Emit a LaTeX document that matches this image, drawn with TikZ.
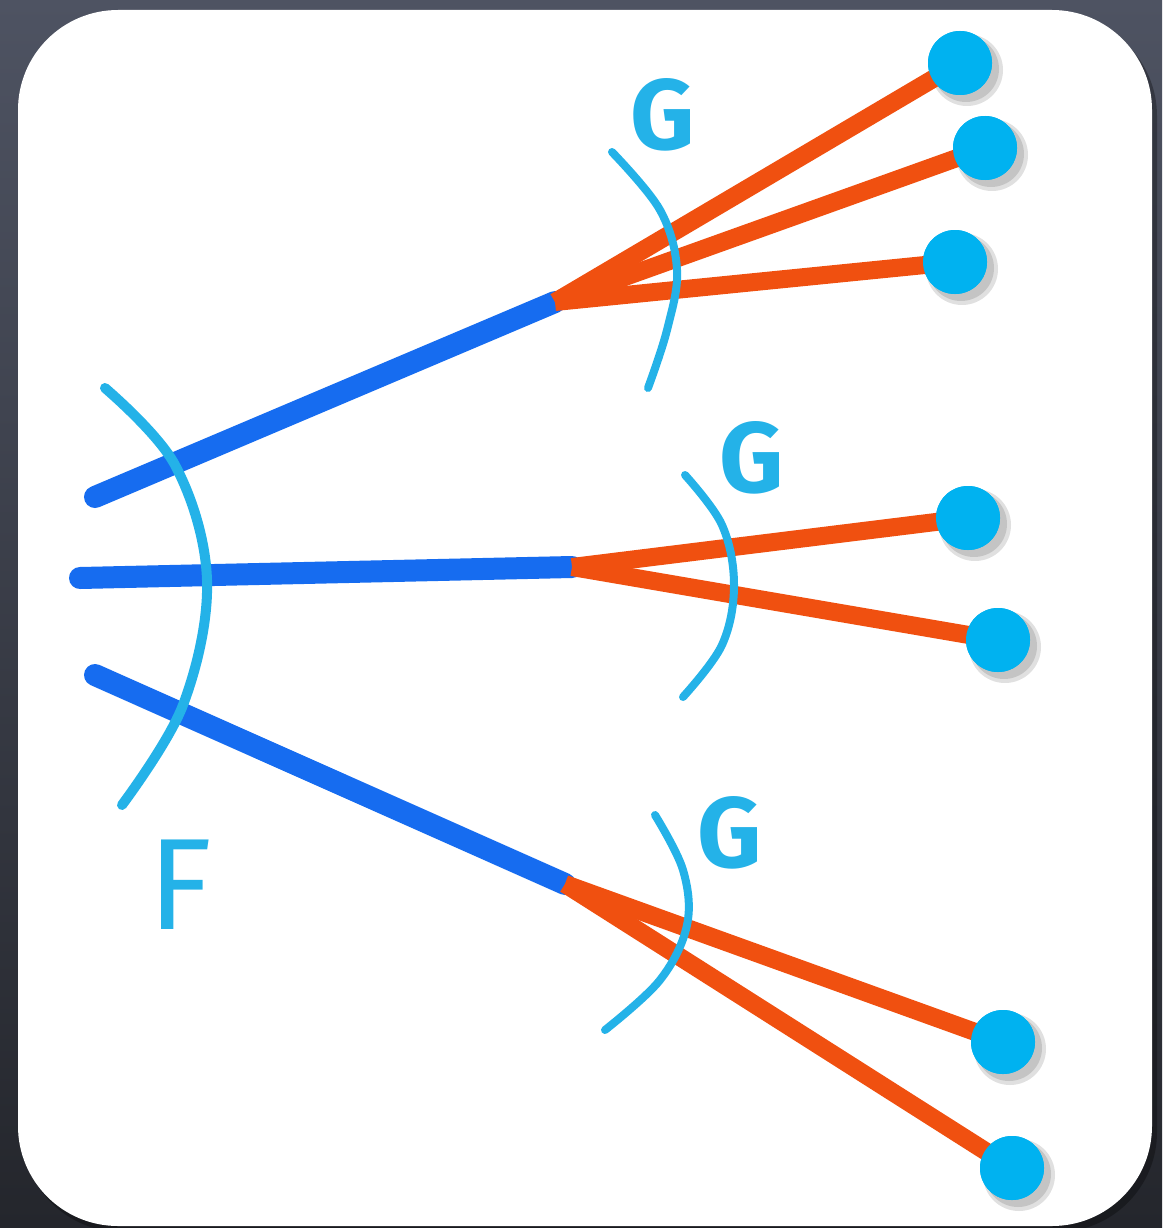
\documentclass[tikz,border=0pt]{standalone}
\usepackage{fontspec}
\setmainfont{Fira Sans}
\definecolor{bgtop}{RGB}{78,83,98}
\definecolor{bgbot}{RGB}{36,38,44}
\definecolor{lineblue}{RGB}{22,108,240}
\definecolor{lineorange}{RGB}{240,80,16}
\definecolor{dotcyan}{RGB}{0,178,240}
\definecolor{arccyan}{RGB}{36,178,232}
\begin{document}
\begin{tikzpicture}[x=1pt,y=-1pt,
  shad/.style={preaction={draw=black,opacity=0.12,transform canvas={shift={(5pt,-6pt)}}}},
  blueline/.style={draw=lineblue,line width=22pt,line cap=round,shad},
  orangeline/.style={draw=lineorange,line width=18pt,line cap=butt,shad},
  arcline/.style={draw=arccyan,line width=8pt,line cap=round},
  dotnode/.style={circle,fill=dotcyan,minimum size=64pt,inner sep=0pt},
  dotshadow/.style={fill=black,opacity=0.12},
  lbl/.style={text=arccyan,font=\bfseries\fontsize{100}{100}\selectfont,inner sep=0pt}]
\useasboundingbox (0,0) rectangle (1162,1228);
\shade[top color=bgtop,bottom color=bgbot] (0,0) rectangle (1162,1228);
\fill[black,opacity=0.3,rounded corners=100pt] (22,16) rectangle (1157,1232);
\fill[white,rounded corners=100pt] (18,10) rectangle (1152,1226);

% coordinates
\coordinate (s1) at (95,497);
\coordinate (s2) at (80,578);
\coordinate (s3) at (95,675);
\coordinate (j1) at (555,302);
\coordinate (j2) at (572,567);
\coordinate (j3) at (565,884);

% dot shadows
\foreach \p in {(960,63),(985,148),(955,262),(968,518),(998,640),(1003,1042),(1012,1168)}{
  \fill[dotshadow] \p ++(7,7) circle (36pt);
  \fill[dotshadow] \p ++(6,6) circle (33pt);
}

% dots
\node[dotnode] (d1) at (960,63) {};
\node[dotnode] (d2) at (985,148) {};
\node[dotnode] (d3) at (955,262) {};
\node[dotnode] (d4) at (968,518) {};
\node[dotnode] (d5) at (998,640) {};
\node[dotnode] (d6) at (1003,1042) {};
\node[dotnode] (d7) at (1012,1168) {};

% blue lines
\draw[blueline] (s1) -- (j1);
\draw[blueline] (s2) -- (j2);
\draw[blueline] (s3) -- (j3);

% orange lines
\draw[orangeline] (j1) -- (d1.center);
\draw[orangeline] (j1) -- (d2.center);
\draw[orangeline] (j1) -- (d3.center);
\draw[orangeline] (j2) -- (d4.center);
\draw[orangeline] (j2) -- (d5.center);
\draw[orangeline] (j3) -- (d6.center);
\draw[orangeline] (j3) -- (d7.center);

% dots on top
\foreach \p in {(960,63),(985,148),(955,262),(968,518),(998,640),(1003,1042),(1012,1168)}
  \fill[dotcyan] \p circle (32pt);

% arcs
\draw[arcline,line width=10pt] plot[smooth,tension=0.6] coordinates {(105,388) (175,465) (207,580) (183,705) (122,805)};
\draw[arcline] plot[smooth,tension=0.6] coordinates {(612,152) (660,210) (677,270) (667,330) (648,388)};
\draw[arcline] plot[smooth,tension=0.6] coordinates {(685,475) (722,525) (734,585) (722,645) (683,697)};
\draw[arcline] plot[smooth,tension=0.6] coordinates {(655,815) (683,870) (687,925) (660,980) (605,1030)};

% labels
\node[lbl] (g1) at (663,115) {G};
\node[lbl] (g2) at (752,458) {G};
\node[lbl] (g3) at (730,833) {G};
\node[lbl,font=\fontsize{130}{130}\selectfont] (f) at (180,885) {F};
\end{tikzpicture}
\end{document}
